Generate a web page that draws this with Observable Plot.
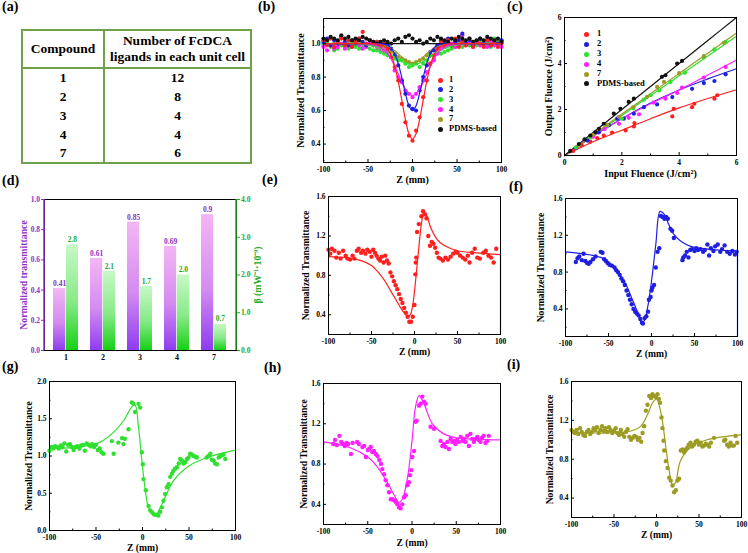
<!DOCTYPE html>
<html><head><meta charset="utf-8">
<script src="https://cdn.jsdelivr.net/npm/d3@7"></script>
<script src="https://cdn.jsdelivr.net/npm/@observablehq/plot@0.6"></script>
<style>
body{margin:0;background:#fff;}
#fig{position:relative;width:748px;height:553px;overflow:hidden;background:#fff;font-family:"Liberation Serif","Times New Roman",serif;font-weight:bold;color:#000;}
.plet{position:absolute;font-size:14px;font-weight:bold;line-height:14px;}
</style></head>
<body><div id="fig"></div>
<script>
// ---------- colours ----------
const RED="#ff1f1f", BLUE="#1f1fe0", GREEN="#2fe02f", MAG="#ff1fff", OLIVE="#9c9c24", BLACK="#111111";
const PURPLE="#8b2fc9", DGREEN="#22aa22", TGREEN="#6fa04a";
const FONT='"Liberation Serif","Times New Roman",serif';

// ---------- (a) table ----------
const compounds=["1","2","3","4","7"];
const ligands=[12,8,4,4,6];
const tableHead=["Compound","Number of FcDCA<br>ligands in each unit cell"];

// ---------- (b) z-scan, all compounds ----------
const seriesNames=["1","2","3","4","7","PDMS-based"];
const seriesColors=[RED,BLUE,GREEN,MAG,OLIVE,BLACK];
const zB=[-100,-96,-92,-88,-84,-80,-76,-72,-68,-64,-60,-56,-52,-48,-44,-40,-36,-32,-28,-24,-20,-16,-12,-8,-4,0,4,8,12,16,20,24,28,32,36,40,44,48,52,56,60,64,68,72,76,80,84,88,92,96,100];
const bS1=[1.02,0.99,1.03,0.98,1.01,1.03,0.99,1.02,0.98,1.01,1.03,1.07,1.0,1.02,0.99,1.01,0.98,1.0,0.97,0.92,0.86,0.78,0.64,0.53,0.45,0.42,0.48,0.56,0.68,0.78,0.88,0.93,0.97,1.01,0.98,1.02,0.99,1.03,0.98,1.01,0.99,1.03,0.98,1.01,1.0,0.98,1.02,0.99,1.01,0.98,1.0];
const bS2=[1.01,1.03,0.99,1.02,1.0,1.04,1.01,0.99,1.02,1.0,1.03,1.01,0.99,1.02,1.0,1.01,0.99,1.0,0.99,0.97,0.93,0.87,0.78,0.7,0.63,0.61,0.6,0.72,0.8,0.87,0.95,0.96,0.99,1.02,1.0,1.03,0.99,1.01,1.02,1.06,1.0,1.02,0.99,1.01,1.03,1.0,1.02,0.99,1.01,1.0,1.02];
const bS3=[0.99,1.0,0.98,0.96,0.97,0.99,0.98,0.97,1.0,0.98,0.97,0.99,0.98,0.97,0.96,0.96,0.95,0.94,0.93,0.92,0.91,0.9,0.9,0.88,0.86,0.87,0.88,0.86,0.88,0.9,0.93,0.91,0.95,0.94,0.95,0.96,0.97,0.98,0.99,0.98,1.0,0.99,1.0,0.99,1.02,0.99,1.0,0.98,1.03,1.01,1.02];
const bS4=[0.98,0.96,0.99,0.97,0.98,1.0,0.97,0.99,0.98,1.01,0.99,0.97,0.98,1.0,0.99,0.98,0.97,0.96,0.95,0.92,0.84,0.8,0.77,0.72,0.7,0.68,0.7,0.74,0.78,0.83,0.88,0.9,0.94,0.97,0.98,0.99,1.0,0.98,0.99,1.05,0.99,1.0,0.98,1.01,0.99,1.0,0.98,1.01,0.99,1.0,0.98];
const bS7=[1.0,1.01,0.99,1.0,1.01,0.99,1.0,1.01,1.0,0.99,1.01,1.0,0.99,1.0,1.01,0.99,0.98,0.98,0.97,0.95,0.94,0.92,0.91,0.9,0.89,0.88,0.89,0.9,0.91,0.93,0.94,0.96,0.98,0.99,1.0,1.01,1.0,0.99,1.0,1.01,1.0,0.99,1.01,1.0,0.99,1.0,1.01,1.0,0.99,1.0,1.01];
const bSP=[1.03,1.02,1.04,1.03,1.02,1.05,1.03,1.04,1.02,1.03,1.02,1.04,1.03,1.02,1.01,1.0,1.01,1.02,1.01,1.0,1.02,1.03,1.01,1.04,1.05,1.03,1.01,1.02,1.0,1.01,1.03,1.02,1.04,1.03,1.02,1.01,1.03,1.02,1.04,1.03,1.02,1.03,1.01,1.02,1.03,1.02,1.04,1.03,1.02,1.03,1.01];
const zBF=[-100,-60,-40,-32,-28,-24,-20,-16,-12,-8,-4,0,4,8,12,16,20,24,28,32,40,60,100];
const bF1=[1.0,1.0,0.998,0.986,0.967,0.93,0.867,0.775,0.662,0.548,0.462,0.43,0.462,0.548,0.662,0.775,0.867,0.93,0.967,0.986,0.998,1.0,1.0];
const bF2=[1.0,1.0,1.0,0.997,0.99,0.973,0.939,0.88,0.797,0.704,0.629,0.6,0.629,0.704,0.797,0.88,0.939,0.973,0.99,0.997,1.0,1.0,1.0];
const bF3=[1.0,0.998,0.979,0.96,0.948,0.934,0.92,0.906,0.893,0.884,0.877,0.875,0.877,0.884,0.893,0.906,0.92,0.934,0.948,0.96,0.979,0.998,1.0];
const bF4=[1.0,1.0,0.989,0.963,0.94,0.907,0.865,0.818,0.77,0.729,0.7,0.69,0.7,0.729,0.77,0.818,0.865,0.907,0.94,0.963,0.989,1.0,1.0];
const bF7=[1.0,1.0,0.998,0.991,0.984,0.973,0.958,0.939,0.92,0.902,0.889,0.885,0.889,0.902,0.92,0.939,0.958,0.973,0.984,0.991,0.998,1.0,1.0];
const bFP=[1.0,1.0,1.0,1.0,1.0,1.0,1.0,1.0,1.0,1.0,1.0,1.0,1.0,1.0,1.0,1.0,1.0,1.0,1.0,1.0,1.0,1.0,1.0];

// ---------- (c) optical limiting ----------
const xC=[0,1,2,3,4,5,6];
const cF1=[0,0.6,1.1,1.6,2.07,2.48,2.86];
const cF2=[0,0.85,1.6,2.28,2.85,3.33,3.77];
const cF3=[0,0.87,1.74,2.6,3.47,4.33,5.18];
const cF4=[0,0.85,1.6,2.25,2.85,3.5,4.15];
const cF7=[0,0.9,1.8,2.68,3.57,4.45,5.33];
const cFP=[0,1,2,3,4,5,6];
const cP1=[[0.3,0.2],[0.6,0.45],[0.9,0.6],[1.14,0.76],[1.37,0.87],[1.66,1.0],[2.13,1.09],[2.42,1.26],[2.44,1.41],[3.76,1.7],[3.81,2.03],[4.45,2.1],[4.53,2.25],[5.23,2.47],[5.33,2.62]];
const cP2=[[0.4,0.33],[0.8,0.65],[1.2,1.0],[1.55,1.31],[1.84,1.6],[2.07,1.6],[2.42,1.82],[2.77,2.1],[3.23,2.22],[3.76,2.54],[4.45,2.9],[4.86,3.15],[5.23,3.24],[5.62,3.53]];
const cP3=[[0.4,0.35],[0.9,0.78],[1.5,1.3],[2.0,1.6],[2.4,2.05],[2.77,2.43],[3.0,2.62],[3.3,2.83],[3.7,3.2],[4.2,3.6],[4.86,4.26],[5.23,4.61],[5.62,4.94]];
const cP4=[[0.5,0.42],[1.0,0.82],[1.4,1.15],[1.9,1.38],[2.24,1.64],[2.6,1.79],[3.1,2.3],[3.52,2.47],[3.93,2.72],[4.1,2.95],[4.86,3.39],[5.62,3.85]];
const cP7=[[0.5,0.45],[1.0,0.9],[1.49,1.33],[1.9,1.68],[2.4,2.1],[2.88,2.55],[3.23,2.98],[3.47,3.2],[4.0,3.58],[4.86,4.32],[5.56,4.9]];
const cPP=[[0.2,0.2],[0.5,0.5],[0.7,0.7],[0.9,0.87],[1.08,1.02],[1.2,1.16],[1.37,1.38],[1.72,1.82],[1.95,2.03],[2.24,2.33],[2.42,2.47],[3.4,3.42],[3.52,3.49],[3.93,4.0],[4.1,4.11]];

// ---------- (d) bars ----------
const barCats=["1","2","3","4","7"];
const transVals=[0.41,0.61,0.85,0.69,0.9];
const betaVals=[2.8,2.1,1.7,2.0,0.7];
const betaTicks=[0,1,2,3,4];
const transTicks=[0,0.2,0.4,0.6,0.8,1.0];

// ---------- (e)-(i) scans ----------
const ePts=[[-100,1.06],[-98,1.02],[-96,1.07],[-93,1.05],[-91,0.98],[-88,1.03],[-86,0.97],[-83,1.05],[-80,1.0],[-78,0.97],[-75,0.96],[-72,1.0],[-70,0.97],[-67,1.05],[-65,1.07],[-62,1.03],[-60,1.05],[-57,1.02],[-55,1.06],[-52,1.04],[-50,0.99],[-48,1.06],[-46,1.03],[-44,1.0],[-42,0.97],[-40,0.95],[-38,0.99],[-36,0.93],[-34,1.0],[-32,0.95],[-30,0.92],[-28,0.83],[-26,0.79],[-24,0.74],[-22,0.7],[-20,0.66],[-18,0.61],[-16,0.56],[-14,0.52],[-12,0.47],[-10,0.42],[-8,0.38],[-6,0.33],[-4,0.33],[-2,0.38],[0,0.5],[1,0.81],[1.5,0.93],[2,0.98],[3,1.24],[5,1.32],[8,1.4],[10,1.45],[12,1.42],[14,1.38],[16,1.2],[18,1.1],[20,1.14],[22,1.12],[24,1.08],[26,1.03],[28,0.98],[30,0.97],[33,0.95],[36,0.98],[39,0.96],[42,0.99],[45,1.02],[48,1.04],[50,1.03],[53,1.0],[56,0.98],[59,0.96],[62,1.0],[64,0.93],[67,1.03],[70,1.07],[73,0.98],[76,0.97],[80,1.03],[83,1.05],[86,1.0],[89,0.98],[92,0.93],[95,1.07]];
const eFit=[[-100,0.99],[-80,0.98],[-62,0.95],[-50,0.9],[-43,0.84],[-35,0.75],[-27.5,0.64],[-20,0.53],[-16,0.47],[-12,0.42],[-8,0.39],[-5,0.4],[-2,0.5],[0,0.64],[3,0.9],[5,1.08],[8,1.32],[11,1.44],[14,1.41],[19,1.28],[25,1.18],[30,1.13],[40,1.08],[50,1.05],[70,1.03],[100,1.01]];
const fPts=[[-88,0.91],[-86,0.95],[-84,0.97],[-81,0.93],[-79,1.0],[-77,0.92],[-75,0.9],[-73,0.89],[-71,0.91],[-68,0.94],[-65,0.97],[-59,1.02],[-57,1.01],[-55,0.94],[-53,0.92],[-51,0.9],[-49,0.88],[-46,0.87],[-43,0.85],[-41,0.82],[-39,0.8],[-37,0.77],[-35,0.73],[-33,0.7],[-31,0.66],[-29,0.6],[-27,0.55],[-25,0.5],[-23,0.45],[-21,0.4],[-19,0.37],[-17,0.35],[-15,0.33],[-13,0.29],[-11,0.25],[-10,0.24],[-8,0.3],[-6,0.32],[-4,0.37],[-3,0.5],[-1,0.53],[0,0.6],[1,0.63],[3,0.66],[5,0.85],[7,1.02],[9,1.06],[11,1.41],[13,1.4],[15,1.38],[17,1.4],[19,1.38],[22,1.27],[24,1.25],[26,1.17],[36,0.93],[37,0.96],[39,0.98],[41,1.02],[43,0.96],[45,1.04],[47,1.05],[50,1.03],[52,1.06],[54,1.04],[57,1.05],[60,1.02],[62,1.04],[65,1.1],[67,0.98],[69,1.06],[72,1.03],[74,1.08],[77,1.1],[80,1.02],[82,1.05],[85,1.09],[88,1.02],[91,1.0],[94,1.03],[97,0.99],[99,1.02]];
const fFit=[[-100,1.02],[-80,1.0],[-59,0.96],[-50,0.91],[-39.5,0.8],[-30,0.67],[-24,0.54],[-16,0.36],[-11.6,0.25],[-8.5,0.27],[-4.6,0.41],[0,0.7],[5,1.1],[10,1.46],[14.7,1.43],[20,1.32],[26,1.21],[35,1.13],[45.7,1.08],[65,1.05],[100,1.03]];
const gPts=[[-100,1.07],[-98,1.12],[-96,1.1],[-94,1.13],[-92,1.12],[-90,1.1],[-88,1.14],[-86,1.12],[-84,1.17],[-82,1.06],[-80,1.15],[-78,1.16],[-76,1.12],[-74,1.08],[-72,1.12],[-70,1.13],[-68,1.1],[-66,1.14],[-64,1.15],[-62,1.07],[-60,1.17],[-58,1.15],[-56,1.13],[-54,1.16],[-52,1.12],[-50,1.15],[-48,1.08],[-46,1.1],[-44,1.05],[-42,1.03],[-33,1.2],[-31,1.03],[-26,1.18],[-22,1.24],[-20.5,1.16],[-19,1.23],[-15,1.36],[-11.5,1.72],[-9.7,1.7],[-8,1.59],[-4.3,1.7],[-2.5,1.65],[-0.7,1.05],[0.4,0.89],[1,0.69],[3.6,0.54],[6.5,0.33],[8.3,0.27],[10,0.25],[12,0.22],[13.6,0.21],[15.4,0.21],[17,0.2],[19,0.25],[20.8,0.31],[22.6,0.4],[24.4,0.49],[26.2,0.58],[28,0.62],[29.8,0.72],[31.6,0.76],[33,0.8],[35,0.83],[37,0.85],[39,0.9],[40.6,0.96],[42.4,0.94],[44,0.9],[46,0.92],[47.8,0.96],[49.5,0.98],[51.3,1.03],[53,1.02],[55,1.0],[57,0.99],[58.5,0.98],[69,0.98],[71,1.0],[73,1.03],[74.5,0.95],[76.5,0.94],[78,0.9],[80,0.89],[82,0.98],[83.7,1.0],[85,1.01],[87,1.02],[89,0.96]];
const gFit=[[-100,1.1],[-80,1.11],[-63,1.13],[-45,1.19],[-31,1.32],[-20,1.48],[-11.5,1.66],[-8,1.68],[-4.3,1.39],[-0.7,0.94],[3,0.54],[6.5,0.31],[12,0.21],[15,0.22],[22.6,0.4],[33.4,0.67],[47.8,0.85],[69.4,0.98],[100,1.08]];
const hPts=[[-89,1.0],[-87,1.04],[-85,0.99],[-82,1.08],[-80,1.02],[-78,1.0],[-76,0.98],[-74,1.01],[-72,1.0],[-69,0.9],[-67,1.01],[-62,1.02],[-60,1.0],[-56,0.97],[-54,0.98],[-52,0.87],[-50,0.94],[-48.5,0.95],[-46.6,0.97],[-45,0.92],[-43,0.93],[-41,0.9],[-39,0.88],[-37,0.84],[-35,0.8],[-33.5,0.75],[-31.6,0.7],[-29.7,0.64],[-27.8,0.59],[-26,0.52],[-24,0.45],[-22,0.45],[-20.3,0.44],[-18,0.42],[-16.5,0.4],[-14.7,0.37],[-12.8,0.36],[-11,0.4],[-9,0.47],[-7,0.49],[-5.3,0.59],[-3.4,0.62],[-2.3,0.69],[-0.8,0.74],[0.4,0.87],[2.3,0.93],[4.1,1.22],[5.3,1.23],[7.9,1.38],[9.8,1.4],[11.7,1.47],[13.5,1.42],[15.4,1.4],[21,1.17],[24.8,1.15],[32.3,1.03],[34.2,0.98],[36,1.0],[38,0.97],[40,1.02],[41.7,0.95],[43.6,1.05],[45.5,1.02],[47.4,1.03],[49,1.0],[51,1.04],[53,1.02],[55,1.07],[57,1.03],[58.6,1.05],[60.5,1.02],[62.4,1.08],[64.3,0.98],[66,1.1],[68,1.05],[70,1.02],[72,1.05],[73.7,1.07],[75.5,1.04],[77.4,1.02],[79,1.06],[81,1.08],[83,1.01],[85,1.03],[86.8,1.08]];
const hFit=[[-100,1.02],[-69,0.96],[-50,0.87],[-39,0.77],[-28,0.62],[-20,0.49],[-14.7,0.42],[-11,0.45],[-5,0.67],[0,1.03],[4,1.37],[8,1.48],[13.5,1.4],[23,1.2],[36,1.1],[51,1.06],[100,1.04]];
const iPts=[[-100,1.1],[-98,1.08],[-96,1.07],[-94,1.1],[-92,1.06],[-90,1.12],[-88,1.08],[-86,1.05],[-84,1.04],[-82,1.08],[-80,1.1],[-78,1.06],[-76,1.08],[-74,1.12],[-72,1.1],[-70,1.13],[-68,1.07],[-66,1.1],[-64,1.14],[-62,1.09],[-60,1.12],[-58,1.08],[-56,1.13],[-54,1.1],[-52,1.07],[-50,1.09],[-48,1.12],[-46,1.07],[-44,1.05],[-42,1.1],[-40,1.06],[-38,1.03],[-36,1.08],[-34,1.11],[-32,1.03],[-30,1.0],[-28,1.02],[-26,1.04],[-24,1.03],[-22,1.0],[-20,1.02],[-18,0.98],[-16.4,1.07],[-14.5,1.14],[-12.5,1.3],[-10.6,1.36],[-8.6,1.45],[-6.5,1.43],[-4.7,1.47],[-2.7,1.45],[-0.5,1.44],[1.2,1.47],[2.8,1.42],[4.3,1.38],[5.9,1.23],[7,1.12],[8.2,0.99],[9,0.89],[11,0.78],[13,0.71],[14.9,0.61],[16.8,0.58],[18.8,0.53],[20.7,0.46],[22.7,0.48],[24.7,0.58],[26.6,0.6],[28.6,0.89],[30.5,0.9],[32.5,0.87],[34.5,0.9],[36.4,0.92],[38,0.95],[40,0.97],[42,0.93],[44,0.95],[46,0.98],[48,0.99],[50,0.95],[52,0.97],[54,0.93],[56,0.94],[58,0.96],[60,0.95],[62,0.93],[64,0.97],[67.7,1.02],[79.5,0.99],[81,1.0],[83,0.95],[85,0.93],[87,0.97],[89,0.94],[91,0.94],[93,1.04],[95,0.97]];
const iFit=[[-100,1.08],[-58,1.07],[-30,1.09],[-18.4,1.14],[-10.6,1.26],[-4.7,1.38],[0,1.42],[3,1.36],[7,1.19],[11,0.92],[15,0.68],[19,0.53],[22.5,0.56],[28,0.78],[40,0.92],[59.6,1.0],[100,1.05]];

// tick positions
const zTicks=[-100,-50,0,50,100], zMinor=[-75,-25,25,75];
const tTicks16=[0.4,0.8,1.2,1.6], tMinor16=[0.2,0.6,1.0,1.4];

// ================= drawing =================
const fig=document.getElementById("fig");
function put(el,left,top){el.style.position="absolute";el.style.left=left+"px";el.style.top=top+"px";fig.appendChild(el);return el;}
const f1=d=>d.toFixed(1);
const fs=d=>String(d);
const LBL={textAnchor:"middle",lineAnchor:"middle",fontWeight:"bold"};

function panel(o){
  const iw=o.w-o.mL-o.mR, ih=o.h-o.mT-o.mB;
  const p=Plot.plot({
    width:o.w,height:o.h,marginLeft:o.mL,marginRight:o.mR,marginTop:o.mT,marginBottom:o.mB,
    style:{fontFamily:FONT,fontWeight:"bold",fontSize:"7.5px",background:"transparent",overflow:"visible",color:"#000"},
    x:{domain:o.xd},y:{domain:o.yd},
    marks:[
      Plot.axisX({ticks:o.xt,tickFormat:o.xf||fs,tickSize:0,tickPadding:4.5,label:null}),
      Plot.axisY({ticks:o.yt,tickFormat:o.yf||f1,tickSize:0,tickPadding:3,label:null}),
      ...o.marks,
      Plot.tickX(o.xt,{x:d=>d,insetTop:ih-3,stroke:"#000"}),
      Plot.tickX(o.xm,{x:d=>d,insetTop:ih-1.5,stroke:"#000"}),
      Plot.tickY(o.yt,{y:d=>d,insetRight:iw-3,stroke:"#000"}),
      Plot.tickY(o.ym,{y:d=>d,insetRight:iw-1.5,stroke:"#000"}),
      Plot.frame({stroke:"#000",strokeWidth:1}),
      Plot.text([o.yl],{...LBL,frameAnchor:"left",rotate:-90,dx:o.ylx,text:d=>d,fontSize:o.lfs||9.6}),
      Plot.text([o.xl],{...LBL,frameAnchor:"bottom",dy:o.xly,text:d=>d,fontSize:o.lfs||9.6})
    ]
  });
  return put(p,o.left,o.top);
}
function zscan(o){
  const marks=[
    Plot.dot(o.pts,{x:d=>d[0],y:d=>d[1],r:2.2,fill:o.color}),
    Plot.line(o.fit,{x:d=>d[0],y:d=>d[1],stroke:o.color,strokeWidth:1.2,curve:"catmull-rom"}),
    ...(o.extra||[])
  ];
  return panel({ym:tMinor16,...o,xd:[-100,100],xt:zTicks,xm:zMinor,yl:"Normalized Transmittance",xl:"Z (mm)",marks});
}

// (a) table
(function(){
  const t=document.createElement("table");
  t.style.cssText=`border-collapse:collapse;width:231px;height:135px;border:2px solid ${TGREEN};font-size:13.5px;font-weight:bold;text-align:center;font-family:${FONT};`;
  let h=`<tr style="height:38px;border-bottom:2px solid ${TGREEN}"><td style="width:80px;border-right:2px solid ${TGREEN};padding:0">${tableHead[0]}</td><td style="padding:0;line-height:16px">${tableHead[1]}</td></tr>`;
  compounds.forEach((c,i)=>{h+=`<tr style="height:19px"><td style="border-right:2px solid ${TGREEN};padding:0">${c}</td><td style="padding:0">${ligands[i]}</td></tr>`;});
  t.innerHTML=h;
  put(t,21,29);
})();

// (b)
const bS=[bS1,bS2,bS3,bS4,bS7,bSP], bF=[bF1,bF2,bF3,bF4,bF7,bFP];
const bOrder=[4,2,3,1,0,5];
panel({left:270,top:5,w:240,h:185,mL:53,mR:9,mT:13,mB:28,xd:[-100,100],yd:[0.29,1.15],xt:zTicks,xm:zMinor,yt:[0.4,0.6,0.8,1.0],ym:[0.3,0.5,0.7,0.9,1.1],
  yl:"Normalized Transmittance",ylx:-23,xl:"Z (mm)",xly:17,lfs:10,
  marks:[
    ...bOrder.map(i=>Plot.dot(zB,{x:zB,y:bS[i],r:2.1,fill:seriesColors[i]})),
    ...[5,4,2,3,1,0].map(i=>Plot.line(zBF,{x:zBF,y:bF[i],stroke:seriesColors[i],strokeWidth:1.2,curve:"catmull-rom"}))
  ]});

// (c)
const cF=[cF1,cF2,cF3,cF4,cF7,cFP], cP=[cP1,cP2,cP3,cP4,cP7,cPP];
panel({left:520,top:5,w:228,h:180,mL:44,mR:12,mT:12,mB:30,xd:[0,6],yd:[0,6],xt:[0,2,4,6],xm:[1,3,5],yt:[0,2,4,6],ym:[1,3,5],yf:fs,
  yl:"Output Fluence (J/cm²)",ylx:-16,xl:"Input Fluence (J/cm²)",xly:18,lfs:10,
  marks:[
    ...cF.map((f,i)=>Plot.line(xC,{x:xC,y:f,stroke:seriesColors[i],strokeWidth:1.2,curve:"catmull-rom"})),
    ...cP.map((p,i)=>Plot.dot(p,{x:d=>d[0],y:d=>d[1],r:2.1,fill:seriesColors[i]}))
  ]});

// legends for (b) and (c)
function legend(left,top,step,gap){
  seriesNames.forEach((n,i)=>{
    const row=document.createElement("div");
    row.style.cssText=`height:${step}px;line-height:${step}px;font-size:8.5px;font-weight:bold;white-space:nowrap;`;
    row.innerHTML=`<span style="display:inline-block;width:5px;height:5px;border-radius:50%;background:${seriesColors[i]};vertical-align:middle;margin-right:${gap}px"></span>${n}`;
    put(row,left,top+i*step);
  });
}
legend(437.5,75,9.85,6.5);
legend(583.5,29.4,9.9,8.5);

// (d) bars with two y axes
(function(){
  const W=270,H=180,mL=44,mR=34,mT=14,mB=15,pi=0.32,po=0.2;
  const step=(W-mL-mR)/(barCats.length-pi+2*po), half=step*(1-pi)/2;
  const betaMax=betaTicks[betaTicks.length-1];
  const betaY=betaVals.map(v=>v/betaMax);
  const p=Plot.plot({
    width:W,height:H,marginLeft:mL,marginRight:mR,marginTop:mT,marginBottom:mB,
    style:{fontFamily:FONT,fontWeight:"bold",fontSize:"7.5px",background:"transparent",overflow:"visible",color:"#000"},
    x:{domain:barCats,paddingInner:pi,paddingOuter:po},
    y:{domain:[0,1]},
    marks:[
      Plot.barY(barCats,{x:barCats,y:transVals,fill:"url(#gPink)",insetRight:half}),
      Plot.barY(barCats,{x:barCats,y:betaY,fill:"url(#gGreen)",insetLeft:half}),
      Plot.text(barCats,{x:barCats,y:transVals,text:transVals.map(String),dx:-half/2,dy:-5,fill:PURPLE,fontSize:7.5}),
      Plot.text(barCats,{x:barCats,y:betaY,text:betaVals.map(v=>v.toFixed(1)),dx:half/2,dy:-5,fill:DGREEN,fontSize:7.5}),
      Plot.axisX({tickSize:0,tickPadding:4,label:null,fontSize:8}),
      Plot.axisY({anchor:"left",ticks:transTicks,tickFormat:f1,tickSize:3,tickPadding:1.5,label:null,color:PURPLE}),
      Plot.axisY({anchor:"right",ticks:betaTicks.map(v=>v/betaMax),tickFormat:d=>(d*betaMax).toFixed(1),tickSize:3,tickPadding:1.5,label:null,color:DGREEN}),
      Plot.frame({stroke:"#000"}),
      Plot.text(["Normalized transmittance"],{...LBL,frameAnchor:"left",rotate:-90,dx:-21,text:d=>d,fontSize:9.8,fill:PURPLE}),
      Plot.text(["β (mW⁻¹·10⁻⁹)"],{...LBL,frameAnchor:"right",rotate:-90,dx:21,text:d=>d,fontSize:9.8,fill:DGREEN})
    ]
  });
  const s=d3.select(p);
  const defs=s.insert("defs",":first-child");
  const g1=defs.append("linearGradient").attr("id","gPink").attr("x1",0).attr("y1",0).attr("x2",0).attr("y2",1);
  g1.append("stop").attr("offset","0%").attr("stop-color","#f3b6f3");
  g1.append("stop").attr("offset","55%").attr("stop-color","#d48cf0");
  g1.append("stop").attr("offset","100%").attr("stop-color","#8f3cf0");
  const g2=defs.append("linearGradient").attr("id","gGreen").attr("x1",0).attr("y1",0).attr("x2",0).attr("y2",1);
  g2.append("stop").attr("offset","0%").attr("stop-color","#c8f8c8");
  g2.append("stop").attr("offset","55%").attr("stop-color","#86ea86");
  g2.append("stop").attr("offset","100%").attr("stop-color","#16d016");
  s.append("line").attr("x1",mL).attr("x2",mL).attr("y1",mT).attr("y2",H-mB).attr("stroke",PURPLE).attr("stroke-width",1.5);
  s.append("line").attr("x1",W-mR).attr("x2",W-mR).attr("y1",mT).attr("y2",H-mB).attr("stroke",DGREEN).attr("stroke-width",1.5);
  put(p,0,185);
})();

// (e)
zscan({left:280,top:188,w:230,h:170,mL:48,mR:10,mT:8,mB:24,yd:[0.2,1.6],yt:tTicks16,ylx:-23,xly:17,
  pts:ePts,fit:eFit,color:RED,
  extra:[Plot.ruleX([100],{y1:0.2,y2:eFit[eFit.length-1][1],stroke:RED,strokeWidth:1.2})]});
// (f)
zscan({left:520,top:188,w:228,h:172,mL:45,mR:11,mT:10,mB:24,yd:[0.1,1.6],yt:tTicks16,ylx:-25,xly:17.5,
  pts:fPts,fit:fFit,color:BLUE,
  extra:[Plot.ruleX([100],{y1:0.1,y2:fFit[fFit.length-1][1],stroke:BLUE,strokeWidth:1.2}),
         Plot.ruleY([0.1],{x1:-24,x2:100,stroke:BLUE,strokeWidth:1.2})]});
// (g)
zscan({left:0,top:368,w:250,h:185,mL:49,mR:15,mT:13,mB:23,yd:[0,2],yt:[0,0.5,1.0,1.5,2.0],ym:[0.25,0.75,1.25,1.75],ylx:-21,xly:17,
  pts:gPts,fit:gFit,color:GREEN});
// (h)
zscan({left:280,top:368,w:230,h:180,mL:43,mR:10,mT:15,mB:24,yd:[0.2,1.6],yt:tTicks16,ylx:-20,xly:18,
  pts:hPts,fit:hFit,color:MAG});
// (i)
zscan({left:520,top:368,w:228,h:175,mL:51,mR:7,mT:13,mB:26,yd:[0.2,1.6],yt:tTicks16,ylx:-22,xly:17.5,
  pts:iPts,fit:iFit,color:OLIVE});

// panel letters
const letters=[["(a)",2,0],["(b)",258,0],["(c)",507,0],["(d)",2,174],["(e)",262,173],["(f)",509,180],["(g)",2,360],["(h)",264,361],["(i)",507,358]];
letters.forEach(([t,x,y])=>{const d=document.createElement("div");d.className="plet";d.textContent=t;put(d,x,y);});
</script></body></html>
